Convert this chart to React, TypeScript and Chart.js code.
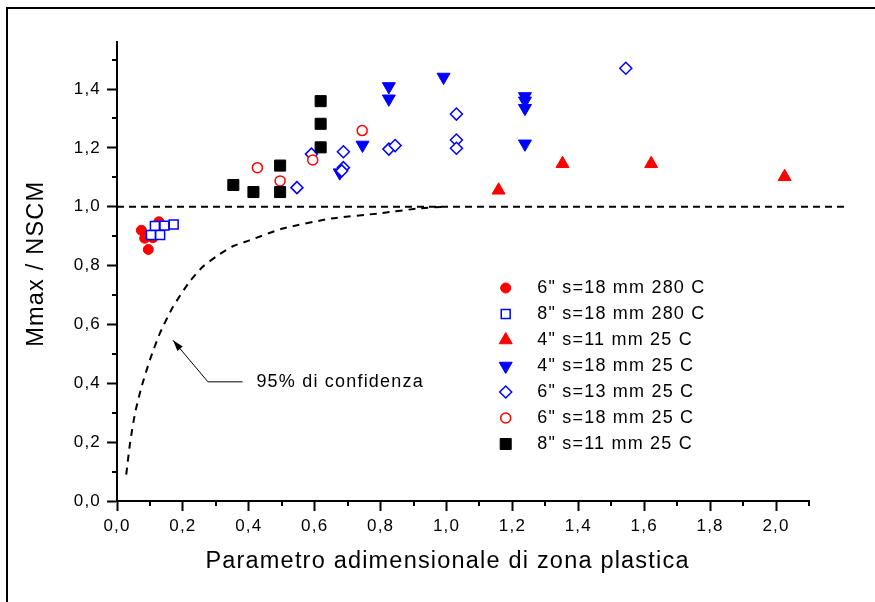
import React, { useEffect, useRef } from 'react';
import { Chart, registerables } from 'chart.js';
import { drawPoint } from 'chart.js/helpers';

Chart.register(...registerables);

const FONT = 'Arial, "Liberation Sans", Helvetica, sans-serif';

// ---- text ----
const xTitle = 'Parametro adimensionale di zona plastica    ';
const yTitle = '  Mmax / NSCM';
const seriesNames = [
  '6" s=18 mm 280 C',
  '8" s=18 mm 280 C',
  '4" s=11 mm 25 C',
  '4" s=18 mm 25 C',
  '6" s=13 mm 25 C',
  '6" s=18 mm 25 C',
  '8" s=11 mm 25 C',
];
const annotText = '95% di confidenza';

// ---- axis ----
const xMin = 0;
const xMax = 2.1;
const yMin = 0;
const yMax = 1.56;
const majorStep = 0.2;
const xMinorTicks = [0.1, 0.3, 0.5, 0.7, 0.9, 1.1, 1.3, 1.5, 1.7, 1.9, 2.1];
const yMinorTicks = [0.1, 0.3, 0.5, 0.7, 0.9, 1.1, 1.3, 1.5];

// ---- data ----
const s1x = [0.074, 0.084, 0.095, 0.127, 0.109];
const s1y = [0.92, 0.893, 0.855, 0.949, 0.895];

const s2x = [0.103, 0.131, 0.115, 0.144, 0.172];
const s2y = [0.904, 0.904, 0.935, 0.936, 0.94];

const s3x = [1.158, 1.352, 1.621, 2.026];
const s3y = [1.056, 1.146, 1.146, 1.102];

const s4x = [0.825, 0.825, 0.991, 0.745, 0.676, 1.238, 1.238, 1.238, 1.238];
const s4y = [1.409, 1.367, 1.441, 1.21, 1.116, 1.375, 1.36, 1.335, 1.214];

const s5x = [0.546, 0.59, 0.687, 0.687, 0.682, 0.825, 0.844, 1.03, 1.03, 1.03, 1.544];
const s5y = [1.065, 1.179, 1.187, 1.133, 1.122, 1.196, 1.208, 1.315, 1.227, 1.199, 1.471];

const s6x = [0.426, 0.495, 0.594, 0.744];
const s6y = [1.133, 1.088, 1.159, 1.259];

const s7x = [0.353, 0.414, 0.495, 0.495, 0.618, 0.618, 0.618];
const s7y = [1.074, 1.05, 1.05, 1.14, 1.359, 1.282, 1.202];

// 95% confidence curve
const confX = [0.028, 0.04, 0.055, 0.075, 0.1, 0.13, 0.17, 0.22, 0.26, 0.3, 0.35, 0.4, 0.5, 0.65, 0.8, 0.92, 1.0];
const confY = [0.09, 0.2, 0.3, 0.39, 0.48, 0.57, 0.66, 0.745, 0.796, 0.83, 0.865, 0.885, 0.925, 0.96, 0.978, 0.995, 1.0];

// reference line at 1.0
const refX = [0, 2.21];
const refY = [1.0, 1.0];

// annotation anchor points (data coords)
const arrowTip = { x: 0.17, y: 0.546 };
const arrowCorner = { x: 0.276, y: 0.405 };
const arrowLineEnd = { x: 0.381, y: 0.405 };
const annotPos = { x: 0.423, y: 0.405 };

const RED = '#ff0000';
const BLUE = '#0000ff';
const BLACK = '#000000';

const styles = [
  { pointStyle: 'circle', radius: 5, rotation: 0, bg: RED, border: RED, bw: 1 },
  { pointStyle: 'rect', radius: 6.3, rotation: 0, bg: '#ffffff', border: BLUE, bw: 1.5 },
  { pointStyle: 'triangle', radius: 7.5, rotation: 0, bg: RED, border: RED, bw: 1 },
  { pointStyle: 'triangle', radius: 7.5, rotation: 180, bg: BLUE, border: BLUE, bw: 1 },
  { pointStyle: 'rectRot', radius: 6, rotation: 0, bg: '#ffffff', border: BLUE, bw: 1.5 },
  { pointStyle: 'circle', radius: 5, rotation: 0, bg: '#ffffff', border: RED, bw: 1.5 },
  { pointStyle: 'rect', radius: 7.8, rotation: 0, bg: BLACK, border: BLACK, bw: 1 },
];

const seriesX = [s1x, s2x, s3x, s4x, s5x, s6x, s7x];
const seriesY = [s1y, s2y, s3y, s4y, s5y, s6y, s7y];

const toPts = (xs: number[], ys: number[]) => xs.map((x, i) => ({ x, y: ys[i] }));
const fmt = (v: number) => Number(v).toFixed(1).replace('.', ',');

const LS = '1.2px';

const decorPlugin = {
  id: 'decor',
  beforeLayout(chart: any) {
    chart.ctx.letterSpacing = LS;
  },
  beforeDraw(chart: any) {
    const ctx = chart.ctx;
    ctx.letterSpacing = LS;
    ctx.save();
    ctx.fillStyle = '#ffffff';
    ctx.fillRect(0, 0, chart.width, chart.height);
    ctx.strokeStyle = '#000';
    ctx.lineWidth = 2;
    ctx.beginPath();
    ctx.moveTo(7, chart.height);
    ctx.lineTo(7, 8);
    ctx.lineTo(chart.width, 8);
    ctx.stroke();
    ctx.restore();
  },
  afterDraw(chart: any) {
    const ctx = chart.ctx;
    const xs = chart.scales.x;
    const ys = chart.scales.y;
    const area = chart.chartArea;
    ctx.save();
    // minor ticks
    ctx.strokeStyle = '#000';
    ctx.lineWidth = 2;
    ctx.beginPath();
    xMinorTicks.forEach((v) => {
      const px = Math.round(xs.getPixelForValue(v));
      ctx.moveTo(px, area.bottom);
      ctx.lineTo(px, area.bottom + 5);
    });
    yMinorTicks.forEach((v) => {
      const py = Math.round(ys.getPixelForValue(v));
      ctx.moveTo(area.left, py);
      ctx.lineTo(area.left - 5, py);
    });
    ctx.stroke();

    // annotation arrow
    const tx = xs.getPixelForValue(arrowTip.x);
    const ty = ys.getPixelForValue(arrowTip.y);
    const cx = xs.getPixelForValue(arrowCorner.x);
    const cy = ys.getPixelForValue(arrowCorner.y);
    const ex = xs.getPixelForValue(arrowLineEnd.x);
    ctx.lineWidth = 1;
    ctx.beginPath();
    ctx.moveTo(ex, cy);
    ctx.lineTo(cx, cy);
    ctx.lineTo(tx, ty);
    ctx.stroke();
    const ang = Math.atan2(ty - cy, tx - cx);
    const L = 11;
    const W = 3.5;
    ctx.fillStyle = '#000';
    ctx.beginPath();
    ctx.moveTo(tx, ty);
    ctx.lineTo(tx - L * Math.cos(ang) + W * Math.sin(ang), ty - L * Math.sin(ang) - W * Math.cos(ang));
    ctx.lineTo(tx - L * Math.cos(ang) - W * Math.sin(ang), ty - L * Math.sin(ang) + W * Math.cos(ang));
    ctx.closePath();
    ctx.fill();
    ctx.font = `18px ${FONT}`;
    ctx.textAlign = 'left';
    ctx.textBaseline = 'middle';
    ctx.fillText(annotText, xs.getPixelForValue(annotPos.x), ys.getPixelForValue(annotPos.y));

    // legend
    const lx = 505.7;
    const ly = 288;
    const step = 26;
    seriesNames.forEach((name, i) => {
      const st = styles[i];
      const y = ly + i * step;
      ctx.fillStyle = st.bg;
      ctx.strokeStyle = st.border;
      ctx.lineWidth = st.bw;
      drawPoint(ctx, { pointStyle: st.pointStyle, radius: st.radius, rotation: st.rotation, borderWidth: st.bw } as any, lx, y);
      ctx.fillStyle = '#000';
      ctx.font = `18px ${FONT}`;
      ctx.textAlign = 'left';
      ctx.textBaseline = 'middle';
      ctx.fillText(name, 537.3, y);
    });
    ctx.restore();
  },
};

export default function App() {
  const ref = useRef<HTMLCanvasElement>(null);
  useEffect(() => {
    const n = seriesNames.length;
    const scatterSets = seriesNames.map((name, i) => {
      const st = styles[i];
      return {
        label: name,
        data: toPts(seriesX[i], seriesY[i]),
        pointStyle: st.pointStyle,
        pointRadius: st.radius,
        pointRotation: st.rotation,
        pointBackgroundColor: st.bg,
        pointBorderColor: st.border,
        pointBorderWidth: st.bw,
        showLine: false,
        order: n - i,
      };
    });
    const lineSets = [
      {
        label: 'ref',
        data: toPts(refX, refY),
        showLine: true,
        borderColor: '#000',
        borderWidth: 2,
        borderDash: [7, 5],
        pointRadius: 0,
        fill: false,
        clip: false,
        order: 100,
      },
      {
        label: 'conf',
        data: toPts(confX, confY),
        showLine: true,
        borderColor: '#000',
        borderWidth: 2,
        borderDash: [7, 6],
        pointRadius: 0,
        tension: 0.2,
        fill: false,
        order: 101,
      },
    ];
    const tickFont = { family: FONT, size: 17 };
    const chart = new Chart(ref.current as HTMLCanvasElement, {
      type: 'scatter',
      data: { datasets: [...scatterSets, ...lineSets] as any },
      options: {
        responsive: false,
        animation: false,
        devicePixelRatio: 1,
        layout: { padding: { left: 0, right: 66, top: 42, bottom: 0 } },
        plugins: { legend: { display: false }, tooltip: { enabled: false } },
        scales: {
          x: {
            type: 'linear',
            min: xMin,
            max: xMax,
            afterFit: (s: any) => {
              s.height = 101;
            },
            ticks: {
              stepSize: majorStep,
              includeBounds: false,
              color: '#000',
              font: tickFont,
              padding: 5,
              maxRotation: 0,
              autoSkip: false,
              callback: (v: any) => fmt(v),
            },
            grid: { drawOnChartArea: false, drawTicks: true, tickLength: 10, tickWidth: 2, tickColor: '#000' },
            border: { display: true, color: '#000', width: 2 },
            title: {
              display: true,
              text: xTitle,
              color: '#000',
              font: { family: FONT, size: 23.5 },
              padding: { top: 0, bottom: 26 },
            },
          },
          y: {
            type: 'linear',
            min: yMin,
            max: yMax,
            afterFit: (s: any) => {
              s.width = 117;
            },
            ticks: {
              stepSize: majorStep,
              includeBounds: false,
              color: '#000',
              font: tickFont,
              padding: 6,
              autoSkip: false,
              callback: (v: any) => fmt(v),
            },
            grid: { drawOnChartArea: false, drawTicks: true, tickLength: 10, tickWidth: 2, tickColor: '#000' },
            border: { display: true, color: '#000', width: 2 },
            title: {
              display: true,
              text: yTitle,
              color: '#000',
              font: { family: FONT, size: 23.5 },
              padding: { top: 22, bottom: 0 },
            },
          },
        },
      } as any,
      plugins: [decorPlugin],
    });
    return () => chart.destroy();
  }, []);
  return (
    <div style={{ position: 'absolute', left: 0, top: 0, width: 875, height: 602, background: '#fff' }}>
      <canvas ref={ref} width={875} height={602} style={{ display: 'block', width: 875, height: 602 }} />
    </div>
  );
}
